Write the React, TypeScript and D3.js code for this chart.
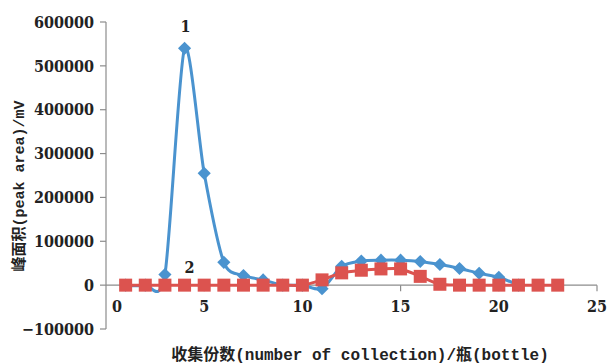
import React from "react";
import * as d3 from "d3";

// Collection fractions (bottle number) and peak areas for the two components
const fractions1 = [1, 2, 3, 4, 5, 6, 7, 8, 9, 10, 11, 12, 13, 14, 15, 16, 17, 18, 19, 20, 21];
const peak1 = [0, 0, 24000, 540000, 255000, 52000, 22000, 12000, 0, 0, -8000, 43000, 55000, 57000, 57000, 54000, 47000, 38000, 27000, 18000, 0];
const fractions2 = [1, 2, 3, 4, 5, 6, 7, 8, 9, 10, 11, 12, 13, 14, 15, 16, 17, 18, 19, 20, 21, 22, 23];
const peak2 = [0, 0, 0, 0, 0, 0, 0, 0, 0, 0, 12000, 28000, 34000, 37000, 37000, 20000, 2000, 0, 0, 0, 0, 0, 0];
const xTicks = [0, 5, 10, 15, 20, 25];
const yTicks = [-100000, 0, 100000, 200000, 300000, 400000, 500000, 600000];
const seriesLabels = ["1", "2"];
const xTitle = "收集份数(number of collection)/瓶(bottle)";
const yTitle = "峰面积(peak area)/mV";

const W = 608;
const H = 364;
const BLUE = "#4a93cf";
const RED = "#dc534f";
const AXIS = "#8c8c8c";
const NUM_FONT = "'DejaVu Serif Condensed', 'DejaVu Serif', serif";
const TITLE_FONT = "'Liberation Mono', 'Noto Sans CJK SC', monospace";

export default function App() {
  const x = d3.scaleLinear().domain([0, 25]).range([106, 597]);
  const y = d3.scaleLinear().domain([-100000, 600000]).range([329, 22]);

  const line = d3
    .line<[number, number]>()
    .x((d) => x(d[0]))
    .y((d) => y(d[1]))
    .curve(d3.curveCardinal.tension(0.2));

  const s1: [number, number][] = fractions1.map((f, i) => [f, peak1[i]]);
  const s2: [number, number][] = fractions2.map((f, i) => [f, peak2[i]]);

  const diamond = d3.symbol().type(d3.symbolDiamond2).size(110)() as string;

  return (
    <svg
      width={W}
      height={H}
      style={{ position: "absolute", left: 0, top: 0, background: "#fff" }}
    >
      {/* y axis */}
      <line x1={x(0)} x2={x(0)} y1={y(600000)} y2={y(-100000)} stroke={AXIS} strokeWidth={1.2} />
      {yTicks.map((t) => (
        <g key={"y" + t}>
          <line x1={x(0) - 6} x2={x(0)} y1={y(t)} y2={y(t)} stroke={AXIS} strokeWidth={1.2} />
          <text
            x={94}
            y={y(t)}
            dy="0.36em"
            textAnchor="end"
            fontFamily={NUM_FONT}
            fontWeight="bold"
            fontSize={16}
            fill="#222"
          >
            {t < 0 ? "\u2212" + Math.abs(t) : String(t)}
          </text>
        </g>
      ))}
      {/* x axis at zero */}
      <line x1={x(0)} x2={x(25)} y1={y(0)} y2={y(0)} stroke={AXIS} strokeWidth={1.2} />
      {xTicks.map((t) => (
        <g key={"x" + t}>
          {t > 0 && (
            <line x1={x(t)} x2={x(t)} y1={y(0)} y2={y(0) + 6} stroke={AXIS} strokeWidth={1.2} />
          )}
          <text
            x={x(t) + (t === 0 ? 11 : 0)}
            y={306}
            dy="0.36em"
            textAnchor="middle"
            fontFamily={NUM_FONT}
            fontWeight="bold"
            fontSize={16}
            fill="#222"
          >
            {t}
          </text>
        </g>
      ))}

      {/* series 1 */}
      <path d={line(s1) as string} fill="none" stroke={BLUE} strokeWidth={3} />
      {s1.map((d, i) => (
        <path key={"d" + i} d={diamond} transform={`translate(${x(d[0])},${y(d[1])})`} fill={BLUE} />
      ))}

      {/* series 2 */}
      <path d={line(s2) as string} fill="none" stroke={RED} strokeWidth={3} />
      {s2.map((d, i) => (
        <rect key={"s" + i} x={x(d[0]) - 6.5} y={y(d[1]) - 6.5} width={13} height={13} fill={RED} />
      ))}

      {/* peak labels */}
      <text x={x(4) + 1} y={y(540000) - 16} textAnchor="middle" fontFamily={NUM_FONT} fontWeight="bold" fontSize={16} fill="#222">
        {seriesLabels[0]}
      </text>
      <text x={x(4) + 5} y={y(0) - 12} textAnchor="middle" fontFamily={NUM_FONT} fontWeight="bold" fontSize={16} fill="#222">
        {seriesLabels[1]}
      </text>

      {/* axis titles */}
      <text x={360} y={360} textAnchor="middle" fontFamily={TITLE_FONT} fontWeight="bold" fontSize={16} fill="#222">
        {xTitle}
      </text>
      <text
        transform={`translate(24,186) rotate(-90)`}
        textAnchor="middle"
        fontFamily={TITLE_FONT}
        fontWeight="bold"
        fontSize={15}
        fill="#222"
      >
        {yTitle}
      </text>
    </svg>
  );
}
